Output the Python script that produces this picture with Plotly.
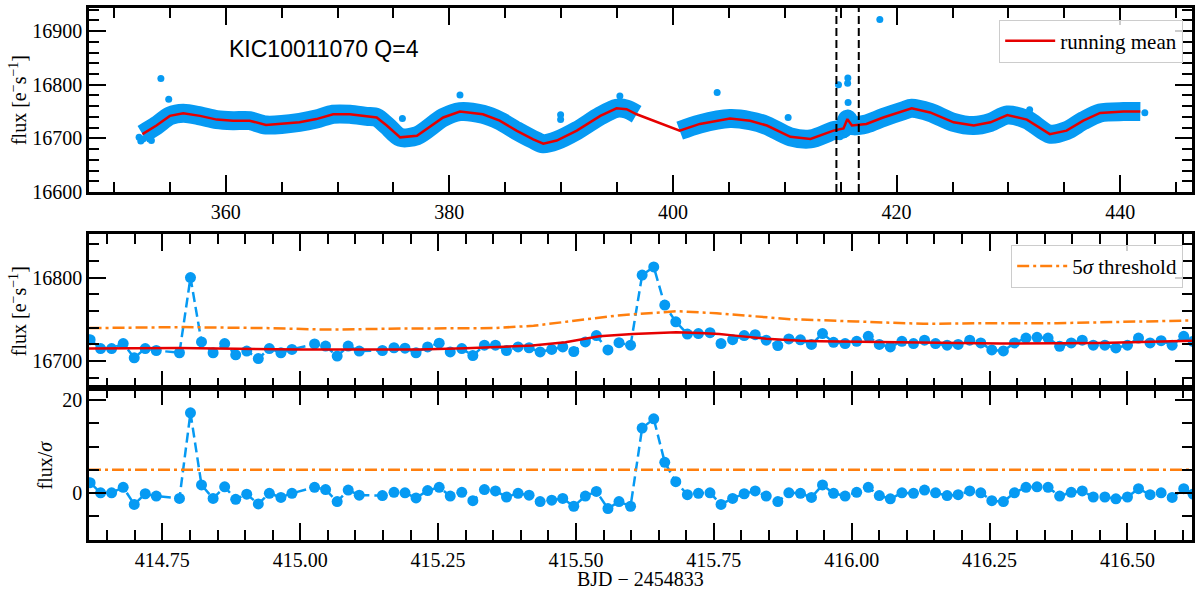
import plotly.graph_objects as go

# ----- quarter overview (top panel) -----
# running mean
t_mean = [352.55, 353.8, 355.0, 356.2, 357.7, 359.2, 360.65, 362.15, 363.6, 366.6,
          368.1, 369.6, 371.1, 372.6, 373.5, 374.4, 375.6, 377.1, 379.45, 380.95,
          383.0, 384.5, 386.0, 387.5, 388.4, 389.6, 391.4, 393.5, 394.95, 395.85,
          396.75, 400.6, 402.4, 405.1, 406.9, 408.4, 410.5, 412.3, 414.35, 415.25,
          415.6, 416.0, 417.3, 418.8, 420.6, 421.35, 423.0, 425.1, 426.9, 428.4,
          429.9, 431.65, 433.7, 435.2, 436.7, 438.2, 440.3, 441.8]
f_mean = [16708, 16724, 16742, 16747, 16742, 16735, 16733, 16733, 16725, 16730,
          16736, 16745, 16745, 16741, 16739, 16724, 16702, 16705, 16739, 16750,
          16745, 16733, 16714.5, 16698, 16690, 16696, 16714.5, 16742, 16756, 16754.5,
          16745, 16714.5, 16727, 16737, 16733, 16724, 16703, 16699, 16714.5, 16718.7,
          16736, 16724, 16727, 16739, 16751.6, 16756, 16748.4, 16730, 16724, 16730,
          16743.5, 16735, 16708, 16714.5, 16733, 16747.5, 16750, 16750]
# single points standing out of the band
t_out = [352.25, 352.4, 352.6, 353.35, 354.2, 354.9, 375.8, 380.95, 389.95, 389.95,
         395.25, 403.95, 410.3, 418.5, 431.9, 442.2]
f_out = [16702, 16695, 16699, 16696, 16811.5, 16773, 16737, 16781, 16744, 16735,
         16779, 16785.5, 16739, 16921.5, 16753.4, 16748]

# ----- two-day window (middle and bottom panels) -----
window = [414.617, 416.617]
t_zoom = [414.619, 414.638, 414.658, 414.679, 414.699, 414.719, 414.739,
          414.781, 414.801, 414.821, 414.842, 414.863, 414.883, 414.903, 414.924,
          414.944, 414.965, 414.985,
          415.026, 415.046, 415.067, 415.087, 415.107,
          415.149, 415.170, 415.190, 415.210, 415.231, 415.252, 415.272, 415.293,
          415.313, 415.334, 415.354, 415.374, 415.395, 415.415, 415.435, 415.456,
          415.476, 415.496, 415.517, 415.537, 415.558, 415.578, 415.599, 415.620,
          415.641, 415.661, 415.681, 415.702, 415.722, 415.743, 415.763, 415.784,
          415.805, 415.825, 415.845, 415.866, 415.886, 415.907, 415.927, 415.947,
          415.967, 415.988, 416.009, 416.030, 416.050, 416.070, 416.091, 416.112,
          416.132, 416.152, 416.173, 416.193, 416.214, 416.234, 416.254, 416.275,
          416.295, 416.316, 416.336, 416.356, 416.377, 416.398, 416.418, 416.438,
          416.459, 416.479, 416.500, 416.520, 416.541, 416.561, 416.581, 416.602,
          416.619]
f_zoom = [16725.7, 16715, 16715, 16721, 16704, 16715, 16712.7,
          16710, 16800, 16723, 16710, 16721, 16707.5, 16712, 16703,
          16715, 16710, 16714,
          16720.5, 16718, 16706, 16718, 16712,
          16712.7, 16716, 16715.5, 16710, 16717, 16721.4, 16711, 16715,
          16706.7, 16719, 16719, 16712.7, 16717, 16716, 16711, 16714,
          16717, 16711.5, 16723, 16730.5, 16713.4, 16722, 16719, 16803,
          16812.7, 16767, 16747, 16732.4, 16733, 16734, 16721, 16725.7,
          16730.5, 16731.6, 16725, 16718.6, 16726.5, 16725.5, 16720, 16733,
          16722.5, 16721, 16723.7, 16729.7, 16720, 16717, 16723.7, 16721,
          16725, 16721, 16719, 16720, 16725, 16721.7, 16713.4, 16712.2,
          16721.7, 16727.6, 16728.5, 16727.6, 16717.8, 16721.7, 16725, 16719,
          16719, 16715.8, 16719, 16727.6, 16721.7, 16724.5, 16719, 16729.7,
          16723.7]
snr_zoom = [2.2, 0.0, 0.0, 1.2, -2.5, -0.2, -0.7,
            -1.2, 17.3, 1.7, -1.2, 1.3, -1.4, -0.3, -2.4,
            -0.1, -1.0, -0.1,
            1.2, 0.7, -1.9, 0.6, -0.5,
            -0.6, 0.1, 0.0, -1.1, 0.5, 1.2, -0.7, 0.1,
            -1.7, 0.7, 0.4, -0.9, -0.1, -0.5, -1.9, -1.6,
            -1.2, -2.9, -0.7, 0.3, -3.4, -1.9, -2.9, 14.0,
            16.0, 6.6, 2.4, -0.4, -0.1, 0.0, -2.5, -1.2,
            -0.2, 0.4, -0.7, -1.9, 0.0, -0.1, -1.0, 1.7,
            -0.1, -0.7, 0.1, 1.2, -0.6, -1.3, 0.0, -0.1,
            0.6, 0.0, -0.6, -0.4, 0.4, 0.0, -1.7, -1.9,
            0.0, 1.2, 1.3, 1.2, -0.7, 0.1, 0.4, -0.9,
            -0.9, -1.3, -0.9, 0.9, -0.4, 0.0, -1.0, 0.9,
            -0.3]
t_zmean = [414.617, 414.780, 414.998, 415.216, 415.300, 415.421, 415.481, 415.518,
           415.542, 415.603, 415.639, 415.682, 415.724, 415.760, 415.784, 415.845,
           415.907, 415.943, 416.087, 416.268, 416.450, 416.617]
f_zmean = [16715.0, 16715.8, 16713.8, 16713.8, 16715.4, 16718.6, 16722.5, 16726.5,
           16729.7, 16732.5, 16733.6, 16734.4, 16733.6, 16732.5, 16730.8, 16726.9,
           16724.5, 16723.7, 16722.5, 16721.0, 16721.7, 16724.5]
t_thr = [414.618, 414.782, 414.939, 415.048, 415.181, 415.350, 415.423, 415.513,
         415.574, 415.665, 415.683, 415.755, 415.846, 415.888, 416.009, 416.130,
         416.251, 416.372, 416.493, 416.614]
f_thr = [16739.5, 16740.7, 16739.5, 16737.7, 16738.9, 16739.5, 16742.3, 16749.4,
         16754.5, 16758.9, 16759.7, 16757.3, 16752.6, 16750.2, 16747.4, 16744.6,
         16745.4, 16745.4, 16747.0, 16748.6]
snr_thr = 5

title = 'KIC10011070 Q=4'

# ----- style -----
blue = '#069af3'
red = '#e60000'
orange = '#ff7f0e'
serif = 'Liberation Serif'
sans = 'Liberation Sans'

fig = go.Figure()

# top: data band split at the mid-quarter gap
cuts = [0] + [i for i in range(1, len(t_mean)) if t_mean[i] - t_mean[i - 1] > 3.5] + [len(t_mean)]
for a, b in zip(cuts[:-1], cuts[1:]):
    fig.add_trace(go.Scatter(x=t_mean[a:b], y=f_mean[a:b], mode='lines',
                             line=dict(color=blue, width=19, shape='spline', smoothing=0.8),
                             showlegend=False, xaxis='x', yaxis='y'))
for tx, fy in ((t_out, f_out), (t_zoom, f_zoom)):
    fig.add_trace(go.Scatter(x=tx, y=fy, mode='markers', marker=dict(color=blue, size=7),
                             showlegend=False, xaxis='x', yaxis='y'))
fig.add_trace(go.Scatter(x=t_mean, y=f_mean, mode='lines', name='running mean',
                         line=dict(color=red, width=2.5), legend='legend',
                         xaxis='x', yaxis='y'))

# middle: flux in the window
fig.add_trace(go.Scatter(x=t_zoom, y=f_zoom, mode='lines+markers',
                         line=dict(color=blue, width=2.5, dash='10px,5px'),
                         marker=dict(color=blue, size=11), showlegend=False,
                         xaxis='x2', yaxis='y2'))
fig.add_trace(go.Scatter(x=t_zmean, y=f_zmean, mode='lines', line=dict(color=red, width=2.5),
                         showlegend=False, xaxis='x2', yaxis='y2'))
fig.add_trace(go.Scatter(x=t_thr, y=f_thr, mode='lines', name='5<i>σ</i> threshold',
                         line=dict(color=orange, width=2.5, dash='12px,4px,3px,4px'),
                         legend='legend2', xaxis='x2', yaxis='y2'))

# bottom: significance
fig.add_trace(go.Scatter(x=t_zoom, y=snr_zoom, mode='lines+markers',
                         line=dict(color=blue, width=2.5, dash='10px,5px'),
                         marker=dict(color=blue, size=11), showlegend=False,
                         xaxis='x3', yaxis='y3'))
fig.add_trace(go.Scatter(x=window, y=[snr_thr] * len(window), mode='lines',
                         line=dict(color=orange, width=2.5, dash='12px,4px,3px,4px'),
                         showlegend=False, xaxis='x3', yaxis='y3'))

# window markers on the overview
for xv in window:
    fig.add_shape(type='line', xref='x', yref='y domain', x0=xv, x1=xv, y0=0, y1=1,
                  line=dict(color='black', width=2, dash='8px,4px'))

ax = dict(showline=True, linecolor='black', linewidth=2.5, mirror='allticks',
          ticks='inside', ticklen=17, tickwidth=2, tickcolor='black',
          showgrid=False, zeroline=False,
          tickfont=dict(family=serif, size=20, color='black'))


def minor(d):
    return dict(dtick=d, ticks='inside', ticklen=10, tickwidth=1.5,
                tickcolor='black', showgrid=False)


legend_style = dict(xanchor='right', yanchor='top', x=0.992, itemwidth=50,
                    bgcolor='rgba(255,255,255,0.8)', bordercolor='#cccccc', borderwidth=1,
                    font=dict(family=serif, size=21, color='black'))

fig.update_layout(
    width=1200, height=593,
    margin=dict(l=89, r=8, t=5, b=53),
    paper_bgcolor='white', plot_bgcolor='white',
    xaxis=dict(ax, domain=[0, 1], anchor='y', range=[347.77, 446.42], dtick=20, minor=minor(5)),
    yaxis=dict(ax, domain=[0.654, 1], anchor='x', range=[16600, 16943], dtick=100,
               tickformat='d', minor=minor(20)),
    xaxis2=dict(ax, domain=[0, 1], anchor='y2', range=window, dtick=0.25, minor=minor(0.05),
                showticklabels=False),
    yaxis2=dict(ax, domain=[0.286, 0.575], anchor='x2', range=[16668, 16852], dtick=100,
                tickformat='d', minor=minor(20)),
    xaxis3=dict(ax, domain=[0, 1], anchor='y3', range=window, dtick=0.25, minor=minor(0.05),
                tickformat='.2f'),
    yaxis3=dict(ax, domain=[0, 0.286], anchor='x3', range=[-10.2, 22.7], dtick=20,
                tickformat='d', minor=minor(5)),
    legend=dict(legend_style, y=0.978),
    legend2=dict(legend_style, y=0.555),
    hovermode=False,
)

lab = dict(family=serif, size=20, color='black')
note = dict(xref='paper', yref='paper', xanchor='center', yanchor='middle', showarrow=False)
fig.add_annotation(note, text=title, x=0.213, y=0.922,
                   font=dict(family=sans, size=23, color='black'))
fig.add_annotation(note, text='flux [e<sup>−</sup>s<sup>−1</sup>]', x=0, y=0.827, xshift=-71,
                   textangle=-90, font=lab)
fig.add_annotation(note, text='flux [e<sup>−</sup>s<sup>−1</sup>]', x=0, y=0.43, xshift=-71,
                   textangle=-90, font=lab)
fig.add_annotation(note, text='flux/<i>σ</i>', x=0, y=0.14, xshift=-44, textangle=-90, font=lab)
fig.add_annotation(note, text='BJD − 2454833', x=0.5, y=0, yshift=-39, font=lab)

# the page body has a default 8px margin; drop it so the figure fills the window
fig.write_html("out.html", config={'displayModeBar': False},
               post_script="document.body.style.margin='0px';")
